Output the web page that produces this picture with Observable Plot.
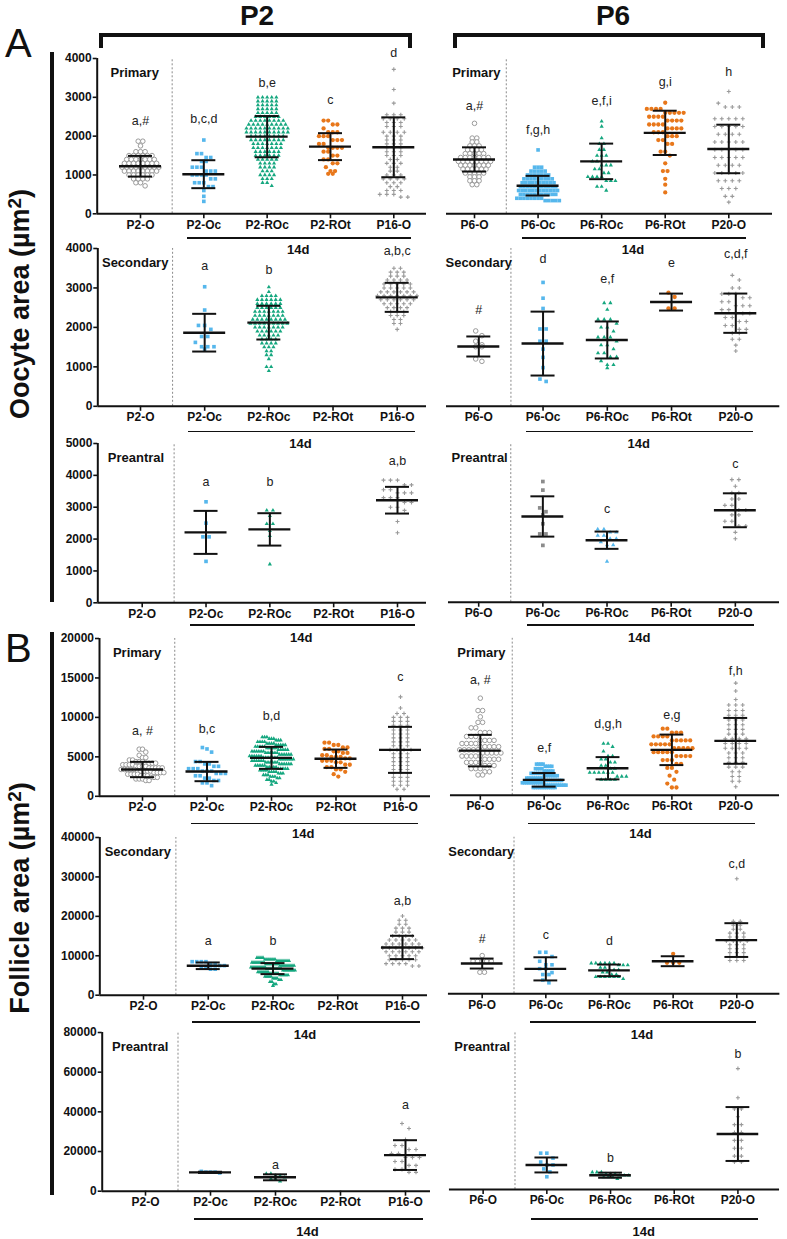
<!DOCTYPE html>
<html><head><meta charset="utf-8">
<script src="https://cdn.jsdelivr.net/npm/d3@7"></script>
<script src="https://cdn.jsdelivr.net/npm/@observablehq/plot@0.6"></script>
<style>
html,body{margin:0;padding:0;background:#fff;}
#root{position:relative;width:787px;height:1239px;overflow:hidden;font-family:"Liberation Sans",Arial,Helvetica,sans-serif;color:#111;}
.abs{position:absolute;white-space:nowrap;line-height:1;}
</style></head>
<body><div id="root"></div>
<script>
// ---------------- categories / labels ----------------
const catsP2 = ["P2-O","P2-Oc","P2-ROc","P2-ROt","P16-O"];
const catsP6 = ["P6-O","P6-Oc","P6-ROc","P6-ROt","P20-O"];
const stageNames = ["Primary","Secondary","Preantral"];
const ageNames = ["P2","P6"];
const yMaxs = [4000,4000,5000,20000,40000,80000];
const yTickStep = [1000,1000,1000,5000,10000,20000];

// ---------------- data: [value, count] per group ----------------
// Oocyte area, Primary, P2
const ooPriP2 = [
 [[1870,2],[1750,1],[1600,3],[1500,6],[1400,7],[1300,8],[1200,9],[1100,8],[1000,6],[900,4],[800,2],[720,1]],
 [[1900,1],[1550,2],[1450,2],[1350,2],[1200,3],[1100,3],[1000,4],[900,2],[800,3],[700,2],[600,1],[450,1],[320,1]],
 [[3000,5],[2900,5],[2800,5],[2700,5],[2600,5],[2500,6],[2400,8],[2300,9],[2200,10],[2100,10],[2000,8],[1900,8],[1800,7],[1700,7],[1600,6],[1500,6],[1400,5],[1300,4],[1200,4],[1100,3],[1000,4],[900,3],[800,2],[720,1]],
 [[2400,2],[2300,2],[2200,1],[2100,3],[2000,3],[1900,3],[1800,2],[1700,4],[1600,2],[1500,2],[1400,2],[1300,2],[1200,1],[1100,2],[1030,2]],
 [[3720,1],[3200,1],[2850,1],[2550,3],[2450,4],[2350,3],[2250,3],[2100,4],[2000,3],[1900,3],[1800,3],[1700,3],[1600,3],[1500,3],[1400,2],[1300,3],[1200,2],[1100,2],[1000,3],[900,4],[800,3],[700,2],[600,3],[500,3],[430,2]]
];
const ooPriP2Stats = [[1225,266],[1020,360],[1987,531],[1730,347],[1713,771]];
const ooPriP2Sig = [["a,#",2398],["b,c,d",2441],["b,e",3366],["c",2938],["d",4137]];

// Oocyte area, Primary, P6
const ooPriP6 = [
 [[2330,1],[1950,2],[1850,2],[1750,3],[1650,4],[1550,5],[1450,7],[1350,8],[1250,7],[1150,6],[1050,5],[950,3],[850,3],[750,2]],
 [[1645,1],[1200,3],[1100,5],[1000,7],[900,9],[800,10],[700,11],[600,12],[500,11],[400,8],[340,5]],
 [[2380,1],[2250,1],[1950,1],[1800,2],[1650,2],[1500,3],[1350,2],[1250,3],[1150,2],[1050,2],[950,4],[850,3],[700,2],[600,1]],
 [[2860,1],[2700,4],[2600,5],[2500,4],[2400,4],[2300,4],[2200,4],[2100,3],[2000,3],[1900,2],[1800,2],[1600,2],[1500,1],[1300,1],[1100,2],[900,1],[750,1],[550,1]],
 [[3150,1],[2850,1],[2750,3],[2450,5],[2250,5],[2050,4],[1850,5],[1650,5],[1450,5],[1250,4],[1050,5],[850,4],[650,3],[450,2],[300,1]]
];
const ooPriP6Stats = [[1400,312],[724,253],[1350,458],[2085,570],[1670,625]];
const ooPriP6Sig = [["a,#",2784],["f,g,h",2167],["e,f,i",2895],["g,i",3383],["h",3657]];

// Oocyte area, Secondary, P2
const ooSecP2 = [
 null,
 [[3030,1],[2440,1],[2050,2],[1950,1],[1770,2],[1620,1],[1510,3],[1450,1]],
 [[3020,1],[2900,1],[2800,4],[2700,6],[2600,6],[2500,6],[2400,7],[2300,7],[2200,8],[2100,9],[2000,7],[1900,6],[1800,5],[1700,4],[1600,4],[1500,3],[1400,2],[1300,2],[1200,1],[1000,2],[900,1]],
 null,
 [[3500,2],[3400,3],[3300,3],[3200,4],[3100,5],[3000,5],[2900,6],[2800,7],[2700,6],[2600,5],[2500,4],[2400,3],[2300,3],[2200,2],[2100,2],[1950,1]]
];
const ooSecP2Stats = [null,[1866,478],[2120,427],null,[2762,368]];
const ooSecP2Sig = [null,["a",3560],["b",3460],null,["a,b,c",3940]];

// Oocyte area, Secondary, P6
const ooSecP6 = [
 [[1910,1],[1790,1],[1650,1],[1560,1],[1510,2],[1200,1],[1140,1]],
 [[3140,1],[2740,1],[2480,1],[1960,2],[1650,2],[1450,1],[1240,1],[980,1],[690,1],[630,1]],
 [[2620,2],[2450,1],[2200,3],[2100,1],[2000,2],[1900,1],[1750,3],[1650,1],[1550,2],[1450,1],[1350,2],[1250,2],[1150,1],[1050,2],[970,1]],
 [[2880,1],[2770,1],[2480,2]],
 [[3320,1],[3200,1],[3000,2],[2850,3],[2750,2],[2650,2],[2550,3],[2450,2],[2350,3],[2250,2],[2150,2],[2050,2],[1950,2],[1850,2],[1700,2],[1550,1],[1400,1]]
];
const ooSecP6Stats = [[1516,254],[1590,810],[1681,469],[2642,215],[2360,498]];
const ooSecP6Sig = [["#",2447],["d",3729],["e,f",3222],["e",3620],["c,d,f",3857]];

// Oocyte area, Preantral, P2
const ooPreP2 = [
 null,
 [[3170,1],[2500,1],[2070,2],[1300,1]],
 [[2900,2],[2730,1],[2480,2],[2260,1],[2100,1],[1210,1]],
 null,
 [[3850,3],[3700,2],[3550,2],[3450,3],[3300,3],[3150,2],[3000,2],[2900,1],[2550,1],[2200,1]]
];
const ooPreP2Stats = [null,[2210,675],[2304,508],null,[3220,419]];
const ooPreP2Sig = [null,["a",3796],["b",3796],null,["a,b",4455]];

// Oocyte area, Preantral, P6
const ooPreP6 = [
 null,
 [[3800,1],[3530,1],[2970,1],[2850,1],[2750,1],[2470,1],[2150,2],[1790,1]],
 [[2300,2],[2200,2],[2100,2],[2000,2],[1900,1],[1800,2],[1700,1],[1280,1]],
 null,
 [[3860,2],[3650,1],[3450,2],[3250,2],[3050,2],[2900,2],[2750,2],[2550,2],[2400,2],[2200,1],[2000,1]]
];
const ooPreP6Stats = [null,[2700,634],[1953,272],null,[2895,534]];
const ooPreP6Sig = [null,null,["c",2937],null,["c",4351]];

// Follicle area, Primary, P2
const foPriP2 = [
 [[5970,2],[5600,1],[5200,1],[4900,2],[4600,2],[4400,3],[4200,4],[4000,4],[3800,4],[3600,5],[3400,5],[3200,5],[3000,4],[2800,4],[2600,3],[2400,3],[2200,3],[2000,2]],
 [[6180,1],[6000,1],[5600,1],[4400,2],[4100,2],[3800,2],[3500,3],[3200,3],[2900,3],[2600,2],[2300,2],[2000,2],[1700,2],[1350,1]],
 [[7500,3],[7300,3],[7100,3],[6900,4],[6700,4],[6500,5],[6300,5],[6100,5],[5900,5],[5700,6],[5500,6],[5300,6],[5100,6],[4900,7],[4700,7],[4500,6],[4300,6],[4100,6],[3900,5],[3700,5],[3500,5],[3300,4],[3100,4],[2900,3],[2700,3],[2500,3],[2300,2],[2100,2],[1900,2],[1700,1],[1500,1]],
 [[6800,2],[6500,2],[6200,2],[6000,2],[5700,2],[5500,2],[5200,2],[5000,3],[4800,2],[4500,3],[4300,2],[4000,2],[3700,2],[3400,2],[3100,1],[2800,1],[2500,1]],
 [[12600,1],[11200,1],[10500,2],[10000,3],[9500,3],[9000,3],[8400,3],[7900,3],[7400,3],[6900,3],[6400,3],[5900,4],[5400,3],[4900,3],[4400,3],[3900,3],[3400,3],[2900,3],[2400,3],[1900,3],[1400,3],[900,2]]
];
const foPriP2Stats = [[3393,972],[3139,1225],[4871,1394],[4765,1162],[5885,2915]];
const foPriP2Sig = [["a, #",8289],["b,c",8585],["b,d",10190],null,["c",15140]];

// Follicle area, Primary, P6
const foPriP6 = [
 [[12380,1],[10800,2],[10000,1],[9300,2],[8600,2],[8000,3],[7500,3],[7000,4],[6600,4],[6200,5],[5800,5],[5400,5],[5000,5],[4600,4],[4200,4],[3800,3],[3400,3],[3000,2],[2600,2]],
 [[3980,4],[3700,4],[3400,4],[3100,5],[2800,6],[2500,7],[2200,8],[1900,9],[1600,10],[1300,11],[1000,11]],
 [[6600,2],[6200,1],[5600,1],[5000,2],[4600,2],[4200,2],[3800,2],[3400,2],[2900,6],[2400,3],[2000,4]],
 [[8490,2],[8000,3],[7500,4],[7000,5],[6500,5],[6000,5],[5500,5],[5000,4],[4500,3],[4000,2],[3500,2],[3000,1],[2500,1],[2000,1],[1500,1],[1000,2]],
 [[14300,1],[13300,1],[12200,1],[11500,3],[10800,3],[10200,3],[9600,3],[9000,3],[8400,3],[7800,3],[7200,4],[6600,4],[6000,4],[5400,3],[4800,3],[4200,3],[3600,3],[3000,2],[2400,2],[1800,2],[1100,1]]
];
const foPriP6Stats = [[5700,2005],[1977,866],[3455,1415],[5798,1943],[6940,2920]];
const foPriP6Sig = [["a, #",14630],["e,f",6060],["d,g,h",9140],["e,g",10280],["f,h",15810]];

// Follicle area, Secondary, P2
const foSecP2 = [
 null,
 [[8500,4],[8000,2],[7500,2],[7000,2],[6600,2]],
 [[9500,4],[9100,6],[8700,7],[8300,7],[7900,7],[7500,8],[7100,8],[6700,8],[6300,7],[5900,6],[5500,5],[5100,5],[4700,4],[4300,3],[3900,2],[3400,2],[2800,2],[2400,1]],
 null,
 [[20100,1],[19000,2],[18000,2],[17000,3],[16000,3],[15000,4],[14000,5],[13000,6],[12000,7],[11000,6],[10000,5],[9000,5],[8000,4],[7400,2]]
];
const foSecP2Stats = [null,[7460,840],[6745,1395],null,[12110,2960]];
const foSecP2Sig = [null,["a",13800],["b",13800],null,["a,b",23940]];

// Follicle area, Secondary, P6
const foSecP6 = [
 [[9750,1],[8300,5],[5500,2]],
 [[10600,2],[9500,1],[8300,1],[7400,2],[6400,2],[5400,1],[4900,2],[3500,1],[2800,1]],
 [[7800,6],[7300,3],[6700,2],[6100,3],[5500,2],[4900,2],[4300,6],[3800,1]],
 [[10200,1],[7900,3]],
 [[29400,1],[18500,2],[17500,2],[16500,2],[15500,3],[14500,3],[13500,4],[12500,3],[11500,3],[10500,3],[9500,3],[8500,3]]
];
const foSecP6Stats = [[7715,1275],[6360,2960],[5975,1485],[8310,1270],[13715,4315]];
const foSecP6Sig = [["#",13970],["c",15070],["d",13380],null,["c,d",33240]];

// Follicle area, Preantral, P2
const foPreP2 = [
 null,
 [[10000,1],[9600,3],[9200,1]],
 [[8800,2],[7800,2],[7000,1],[6200,2],[5000,1]],
 null,
 [[34100,1],[31600,1],[26000,1],[23000,2],[21000,2],[19000,2],[17000,3],[15000,2],[13000,2],[11000,2],[9500,2]]
];
const foPreP2Stats = [null,[9500,300],[7000,1500],null,[18200,7500]];
const foPreP2Sig = [null,null,["a",13000],null,["a",43360]];

// Follicle area, Preantral, P6
const foPreP6 = [
 null,
 [[18500,2],[16000,1],[14000,1],[12500,2],[10500,1],[9000,1],[6500,1]],
 [[8800,3],[8000,3],[7200,3],[6400,3],[5500,1]],
 null,
 [[61500,1],[46700,1],[41000,2],[37000,1],[33000,2],[29000,2],[25000,2],[21000,2],[17000,2],[14000,2]]
];
const foPreP6Stats = [null,[12500,3800],[7300,1300],null,[28240,13700]];
const foPreP6Sig = [null,null,["b",16000],null,["b",69080]];

// ---------------- layout (pixels) ----------------
const rowTop  = [57.7, 247.7, 442.7, 637.7, 836.7, 1032.3];
const rowZero = [213, 405.5, 602, 795.5, 994.4, 1191];
const leftGeo  = [[96.7,140,393.3,426],[97.3,140,396.7,426],[97.3,141.7,397,426],[99,142,400,430],[99.3,143,402,427],[101.7,145,405,430]];
const rightGeo = [[446,474,728.3,772],[445.7,478,735,779],[448,478.3,735.7,780],[450,480,736.7,780.7],[447.7,481.7,738.3,781.7],[449,483,740,782]];
const underOff = [24,25,22,27,27,27];
const d14Off   = [36,38,35,38,40,40];

const BLUE = "#56B7EC", GREEN = "#15A77F", ORANGE = "#E8771A", GREY = "#9a9a9a";
const styleStd = [
  {symbol:"circle", r:2.3, fill:"white", stroke:GREY, sw:1},
  {symbol:"square", r:2.05, fill:BLUE},
  {symbol:"triangle", r:1.55, fill:GREEN},
  {symbol:"circle", r:2.15, fill:ORANGE},
  {symbol:"plus", r:1.4, stroke:GREY, sw:1.1, gap:7, fixedGap:true}
];
const stylePreP6 = [styleStd[0], {symbol:"square", r:2.1, fill:"#8c8c8c"}, {symbol:"triangle", r:1.6, fill:BLUE}, styleStd[3], styleStd[4]];

const panels = [
  {row:0, side:0, pts:ooPriP2, stats:ooPriP2Stats, sig:ooPriP2Sig, stage:0},
  {row:0, side:1, pts:ooPriP6, stats:ooPriP6Stats, sig:ooPriP6Sig, stage:0},
  {row:1, side:0, pts:ooSecP2, stats:ooSecP2Stats, sig:ooSecP2Sig, stage:1},
  {row:1, side:1, pts:ooSecP6, stats:ooSecP6Stats, sig:ooSecP6Sig, stage:1},
  {row:2, side:0, pts:ooPreP2, stats:ooPreP2Stats, sig:ooPreP2Sig, stage:2},
  {row:2, side:1, pts:ooPreP6, stats:ooPreP6Stats, sig:ooPreP6Sig, stage:2, style:stylePreP6},
  {row:3, side:0, pts:foPriP2, stats:foPriP2Stats, sig:foPriP2Sig, stage:0},
  {row:3, side:1, pts:foPriP6, stats:foPriP6Stats, sig:foPriP6Sig, stage:0},
  {row:4, side:0, pts:foSecP2, stats:foSecP2Stats, sig:foSecP2Sig, stage:1},
  {row:4, side:1, pts:foSecP6, stats:foSecP6Stats, sig:foSecP6Sig, stage:1},
  {row:5, side:0, pts:foPreP2, stats:foPreP2Stats, sig:foPreP2Sig, stage:2},
  {row:5, side:1, pts:foPreP6, stats:foPreP6Stats, sig:foPreP6Sig, stage:2}
];

const root = document.getElementById("root");
function addDiv(css, text) {
  const d = document.createElement("div");
  d.className = "abs";
  d.style.cssText += css;
  if (text != null) d.innerHTML = text;
  root.appendChild(d);
  return d;
}

// Prism-like scatter: bin values into rows, center each row
function layoutGroup(pairs, pxPerUnit, spacing, gi, st) {
  const vals = [];
  for (const [v, n] of pairs) for (let k = 0; k < n; k++) vals.push(v);
  vals.sort((a, b) => b - a);
  const maxW = 46;
  let rowH = 5, gap = st.gap ?? 4.6;
  const makeRows = h => {
    const rows = []; let cur = null;
    for (const v of vals) {
      const py = v * pxPerUnit;
      if (!cur || cur.start - py >= h) { cur = {start: py, vals: []}; rows.push(cur); }
      cur.vals.push(v);
    }
    return rows;
  };
  let rows = makeRows(rowH);
  let maxN = d3.max(rows, r => r.vals.length);
  if (!st.fixedGap && maxN <= 4) gap = 6.2;
  while (maxN * gap > maxW && rowH > 3.8) { rowH *= 0.92; rows = makeRows(rowH); maxN = d3.max(rows, r => r.vals.length); }
  if (maxN * gap > maxW) gap = maxW / maxN;
  const out = [];
  for (const r of rows) {
    const n = r.vals.length;
    r.vals.forEach((v, k) => out.push({g: gi, v, x: gi + (k - (n - 1) / 2) * gap / spacing}));
  }
  return out;
}

for (const p of panels) {
  const {row, side} = p;
  const cats = side === 0 ? catsP2 : catsP6;
  const style = p.style || styleStd;
  const [ax0, c0, c4, ax1] = side === 0 ? leftGeo[row] : rightGeo[row];
  const spacing = (c4 - c0) / 4;
  const d0 = -(c0 - ax0) / spacing, d1 = 4 + (ax1 - c4) / spacing;
  const svgLeft = side === 0 ? 40 : ax0 - 8;
  const mL = ax0 - svgLeft, mR = 8, mT = 32, mB = 26;
  const top = rowTop[row], zero = rowZero[row], yMax = yMaxs[row];
  const frameH = zero - top;
  const width = mL + (ax1 - ax0) + mR;
  const height = mT + frameH + mB;
  const pxPerUnit = frameH / yMax;

  const marks = [];
  marks.push(Plot.ruleX([0.5], {y1: 0, y2: yMax, stroke: "#8a8a8a", strokeWidth: 1, strokeDasharray: "2,2"}));
  p.pts.forEach((grp, gi) => {
    if (!grp) return;
    const st = style[gi];
    const pts = layoutGroup(grp, pxPerUnit, spacing, gi, st);
    marks.push(Plot.dot(pts, {x: "x", y: "v", symbol: st.symbol, r: st.r,
      fill: st.fill ?? "none", stroke: st.stroke ?? "none", strokeWidth: st.sw ?? 1}));
  });
  const eb = p.stats.map((s, i) => s ? {i, m: s[0], lo: s[0] - s[1], hi: s[0] + s[1]} : null).filter(Boolean);
  const mh = 21 / spacing, ch = 12 / spacing;
  marks.push(Plot.ruleX(eb, {x: "i", y1: "lo", y2: "hi", stroke: "#111", strokeWidth: 2}));
  marks.push(Plot.ruleY(eb, {y: "m", x1: d => d.i - mh, x2: d => d.i + mh, stroke: "#111", strokeWidth: 2.4}));
  marks.push(Plot.ruleY(eb, {y: "hi", x1: d => d.i - ch, x2: d => d.i + ch, stroke: "#111", strokeWidth: 2}));
  marks.push(Plot.ruleY(eb, {y: "lo", x1: d => d.i - ch, x2: d => d.i + ch, stroke: "#111", strokeWidth: 2}));
  const sig = p.sig.map((s, i) => s ? {i, t: s[0], y: s[1]} : null).filter(Boolean);
  marks.push(Plot.text(sig, {x: "i", y: "y", text: "t", fontSize: 12.5, fill: "#222"}));
  marks.push(Plot.text([stageNames[p.stage]], {x: (d0 + 0.5) / 2, y: yMax, dy: 14.5, text: d => d, fontSize: 13, fontWeight: "bold", fill: "#111"}));
  marks.push(Plot.ruleY([0], {stroke: "#111", strokeWidth: 2}));
  marks.push(Plot.axisX([0, 1, 2, 3, 4], {tickFormat: i => cats[i], tickSize: 5, tickPadding: 1.5, fontSize: 12, fontWeight: "bold", label: null, strokeWidth: 1.6, color: "#111"}));
  if (side === 0) {
    marks.push(Plot.ruleX([d0], {y1: 0, y2: yMax, stroke: "#111", strokeWidth: 2}));
    marks.push(Plot.axisY(d3.range(0, yMax + 1, yTickStep[row]), {tickSize: 4, tickPadding: 1.5, fontSize: 12, fontWeight: "bold", label: null, tickFormat: d => String(d), strokeWidth: 1.6, color: "#111"}));
  }
  const svg = Plot.plot({
    width, height, marginLeft: mL, marginRight: mR, marginTop: mT, marginBottom: mB,
    x: {type: "linear", domain: [d0, d1]},
    y: {type: "linear", domain: [0, yMax], ...(side === 1 ? {axis: null} : {})},
    style: {background: "transparent", overflow: "visible", fontFamily: "'Liberation Sans', Arial, sans-serif", color: "#111"},
    marks
  });
  const wrap = document.createElement("div");
  wrap.className = "abs";
  wrap.style.left = svgLeft + "px";
  wrap.style.top = (top - mT) + "px";
  wrap.appendChild(svg);
  root.appendChild(wrap);

  const cx1 = c0 + spacing, cx4 = c4;
  addDiv(`left:${cx1 - 16}px;top:${zero + underOff[row]}px;width:${cx4 + 18 - (cx1 - 16)}px;height:1.8px;background:#111;`);
  addDiv(`left:${(cx1 + cx4) / 2}px;top:${zero + d14Off[row] - 6.5}px;transform:translateX(-50%);font-size:13px;font-weight:bold;`, "14d");
}

// ---------------- headers / labels ----------------
addDiv(`left:257px;top:1.5px;transform:translateX(-50%);font-size:28px;font-weight:bold;`, ageNames[0]);
addDiv(`left:613px;top:1.5px;transform:translateX(-50%);font-size:28px;font-weight:bold;`, ageNames[1]);
for (const [a, b] of [[99, 412], [453, 765]]) {
  addDiv(`left:${a}px;top:33px;width:${b - a}px;height:4px;background:#111;`);
  addDiv(`left:${a}px;top:33px;width:4px;height:15px;background:#111;`);
  addDiv(`left:${b - 4}px;top:33px;width:4px;height:15px;background:#111;`);
}
addDiv(`left:5px;top:23px;font-size:40px;`, "A");
addDiv(`left:5px;top:628px;font-size:40px;`, "B");
addDiv(`left:50px;top:52px;width:4px;height:550px;background:#111;`);
addDiv(`left:50px;top:632px;width:4px;height:563px;background:#111;`);
addDiv(`left:21px;top:304px;transform:translate(-50%,-50%) rotate(-90deg);font-size:27px;font-weight:bold;line-height:1.15;`, "Oocyte area (µm<sup style='font-size:0.7em;vertical-align:0.45em;line-height:0'>2</sup>)");
addDiv(`left:21px;top:898px;transform:translate(-50%,-50%) rotate(-90deg);font-size:27px;font-weight:bold;line-height:1.15;`, "Follicle area (µm<sup style='font-size:0.7em;vertical-align:0.45em;line-height:0'>2</sup>)");
</script></body></html>
